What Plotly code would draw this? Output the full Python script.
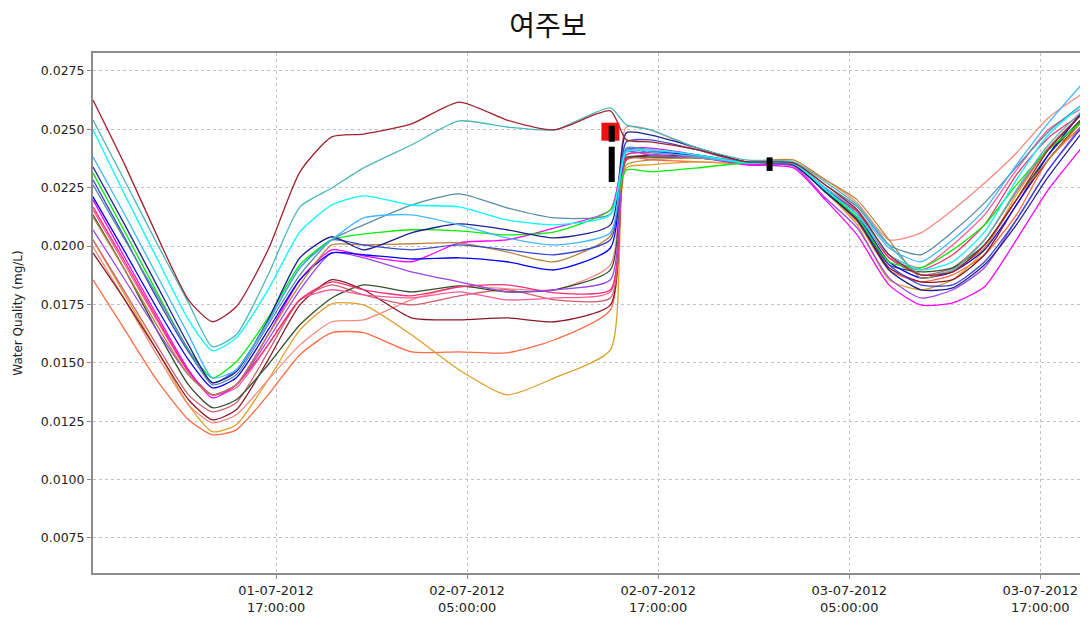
import plotly.graph_objects as go

title_text = "여주보"
y_title = "Water Quality (mg/L)"

times = [
    "2012-07-01 05:30", "2012-07-01 07:30", "2012-07-01 09:30", "2012-07-01 11:30",
    "2012-07-01 13:00", "2012-07-01 14:30", "2012-07-01 16:30", "2012-07-01 18:30",
    "2012-07-01 20:30", "2012-07-01 22:30", "2012-07-02 01:30", "2012-07-02 04:30",
    "2012-07-02 07:30", "2012-07-02 10:30", "2012-07-02 14:00", "2012-07-02 15:00",
    "2012-07-02 16:30", "2012-07-02 19:30", "2012-07-02 22:30", "2012-07-03 01:30",
    "2012-07-03 03:30", "2012-07-03 05:30", "2012-07-03 07:30", "2012-07-03 09:30",
    "2012-07-03 11:30", "2012-07-03 13:30", "2012-07-03 15:30", "2012-07-03 17:30",
    "2012-07-03 20:00",
]

s_darkred = [0.02626,0.02348,0.02048,0.01770,0.01676,0.01740,0.01984,0.02318,0.02468,0.02480,0.02523,0.02617,0.02540,0.02498,0.02579,0.02455,0.02446,0.02412,0.02361,0.02356,0.02262,0.02155,0.01963,0.01877,0.01890,0.02005,0.02198,0.02412,0.02592]
s_teal = [0.02540,0.02279,0.02014,0.01757,0.01569,0.01620,0.01877,0.02168,0.02249,0.02335,0.02433,0.02536,0.02510,0.02498,0.02592,0.02519,0.02498,0.02420,0.02369,0.02361,0.02275,0.02176,0.02005,0.01877,0.01898,0.02027,0.02241,0.02433,0.02604]
s_cyan = [0.02498,0.02219,0.01950,0.01684,0.01552,0.01607,0.01813,0.02061,0.02176,0.02215,0.02176,0.02168,0.02112,0.02091,0.02134,0.02403,0.02412,0.02390,0.02356,0.02356,0.02241,0.02134,0.01963,0.01898,0.01933,0.02061,0.02284,0.02476,0.02626]
s_skyblue = [0.02382,0.02134,0.01877,0.01620,0.01436,0.01470,0.01676,0.01907,0.02027,0.02121,0.02134,0.02091,0.02035,0.02005,0.02057,0.02412,0.02403,0.02382,0.02356,0.02352,0.02249,0.02155,0.01992,0.01933,0.02027,0.02155,0.02348,0.02527,0.02724]
s_grayblue = [0.02262,0.02027,0.01791,0.01556,0.01406,0.01449,0.01663,0.01877,0.02027,0.02091,0.02176,0.02224,0.02164,0.02121,0.02138,0.02420,0.02412,0.02390,0.02361,0.02356,0.02262,0.02168,0.02005,0.01963,0.02061,0.02185,0.02339,0.02489,0.02626]
s_navy = [0.02339,0.02091,0.01834,0.01577,0.01415,0.01462,0.01684,0.01950,0.02040,0.01984,0.02057,0.02095,0.02070,0.02035,0.02091,0.02485,0.02476,0.02420,0.02361,0.02348,0.02232,0.02112,0.01898,0.01813,0.01821,0.01920,0.02091,0.02296,0.02519]
s_green = [0.02313,0.02061,0.01804,0.01556,0.01436,0.01505,0.01693,0.01920,0.02027,0.02052,0.02070,0.02065,0.02048,0.02061,0.02155,0.02326,0.02318,0.02335,0.02356,0.02348,0.02241,0.02121,0.01933,0.01907,0.01984,0.02091,0.02262,0.02412,0.02553]
s_dkgold = [0.02125,0.01898,0.01663,0.01449,0.01363,0.01406,0.01620,0.01834,0.02005,0.02005,0.02010,0.02014,0.01975,0.01933,0.02044,0.02348,0.02369,0.02378,0.02361,0.02369,0.02284,0.02198,0.02027,0.01864,0.01898,0.01992,0.02198,0.02369,0.02562]
s_blue = [0.02211,0.01975,0.01736,0.01513,0.01393,0.01436,0.01641,0.01856,0.01971,0.01963,0.01945,0.01950,0.01933,0.01898,0.01992,0.02412,0.02403,0.02390,0.02356,0.02352,0.02241,0.02134,0.01933,0.01864,0.01890,0.01984,0.02176,0.02390,0.02604]
s_magenta = [0.02198,0.01950,0.01706,0.01470,0.01350,0.01406,0.01620,0.01856,0.01984,0.01958,0.01933,0.02014,0.02027,0.02078,0.02155,0.02412,0.02420,0.02390,0.02348,0.02335,0.02198,0.02048,0.01834,0.01748,0.01757,0.01826,0.02027,0.02241,0.02455]
s_purple = [0.02070,0.01856,0.01641,0.01449,0.01363,0.01406,0.01599,0.01813,0.01971,0.01950,0.01890,0.01847,0.01804,0.01813,0.01856,0.02403,0.02390,0.02378,0.02352,0.02343,0.02207,0.02078,0.01864,0.01778,0.01813,0.01907,0.02112,0.02326,0.02553]
s_crimson = [0.02168,0.01933,0.01693,0.01462,0.01363,0.01406,0.01577,0.01770,0.01847,0.01813,0.01787,0.01826,0.01834,0.01800,0.01813,0.02390,0.02399,0.02382,0.02352,0.02348,0.02241,0.02147,0.01950,0.01898,0.01963,0.02091,0.02305,0.02463,0.02583]
s_dkgreen = [0.02134,0.01898,0.01641,0.01406,0.01308,0.01342,0.01492,0.01663,0.01778,0.01834,0.01804,0.01830,0.01804,0.01813,0.01898,0.02378,0.02382,0.02378,0.02356,0.02352,0.02232,0.02121,0.01920,0.01890,0.01907,0.02005,0.02198,0.02390,0.02574]
s_maroon = [0.01971,0.01770,0.01556,0.01342,0.01256,0.01299,0.01513,0.01748,0.01856,0.01813,0.01693,0.01684,0.01693,0.01676,0.01748,0.02369,0.02390,0.02382,0.02352,0.02348,0.02232,0.02112,0.01907,0.01847,0.01856,0.01963,0.02176,0.02369,0.02570]
s_salmon = [0.01997,0.01770,0.01535,0.01320,0.01243,0.01278,0.01427,0.01577,0.01676,0.01684,0.01770,0.01826,0.01817,0.01813,0.01920,0.02510,0.02498,0.02412,0.02356,0.02356,0.02284,0.02185,0.02027,0.02057,0.02155,0.02270,0.02399,0.02549,0.02669]
s_tomato = [0.01856,0.01641,0.01427,0.01256,0.01192,0.01213,0.01363,0.01535,0.01629,0.01629,0.01547,0.01547,0.01543,0.01599,0.01727,0.02378,0.02369,0.02361,0.02352,0.02343,0.02232,0.02104,0.01898,0.01847,0.01877,0.01963,0.02134,0.02369,0.02540]
s_goldenrod = [0.02027,0.01791,0.01556,0.01320,0.01205,0.01235,0.01427,0.01641,0.01753,0.01748,0.01620,0.01470,0.01363,0.01436,0.01556,0.02335,0.02348,0.02361,0.02356,0.02348,0.02232,0.02091,0.01856,0.01813,0.01856,0.01984,0.02219,0.02412,0.02510]
s_royal = [0.02284,0.02035,0.01778,0.01547,0.01415,0.01470,0.01676,0.01907,0.02027,0.02005,0.01984,0.02005,0.01984,0.01963,0.02027,0.02446,0.02455,0.02412,0.02361,0.02352,0.02241,0.02134,0.01920,0.01834,0.01834,0.01933,0.02112,0.02326,0.02540]
s_hotpink = [0.02155,0.01920,0.01684,0.01462,0.01363,0.01393,0.01577,0.01770,0.01813,0.01791,0.01778,0.01804,0.01770,0.01778,0.01804,0.02390,0.02403,0.02386,0.02356,0.02352,0.02249,0.02155,0.01963,0.01907,0.02005,0.02134,0.02326,0.02498,0.02604]
s_indianred = [0.02027,0.01804,0.01577,0.01363,0.01290,0.01329,0.01547,0.01770,0.01834,0.01791,0.01748,0.01787,0.01813,0.01770,0.01778,0.02369,0.02378,0.02378,0.02356,0.02352,0.02241,0.02147,0.01950,0.01877,0.01907,0.02027,0.02232,0.02420,0.02592]

series = [
    (s_tomato, "#FF6A45"), (s_goldenrod, "#DCA02A"), (s_salmon, "#F58A80"),
    (s_maroon, "#8A1828"), (s_indianred, "#D06070"), (s_dkgreen, "#34502A"),
    (s_hotpink, "#FF5A9A"), (s_crimson, "#F03070"), (s_purple, "#9A45F0"),
    (s_magenta, "#FF00FF"), (s_blue, "#0000FF"), (s_dkgold, "#B8863A"),
    (s_royal, "#3C46D2"), (s_green, "#00F000"), (s_navy, "#202090"),
    (s_grayblue, "#5A8CA8"), (s_skyblue, "#40B8FF"), (s_cyan, "#00FFFF"),
    (s_teal, "#4BB8B8"), (s_darkred, "#A0202E"),
]

obs_time = ["2012-07-02 14:00"]
obs_value = [0.0249]
range_time = ["2012-07-02 14:05", "2012-07-02 14:05"]
range_value = [0.02515, 0.02275]
range2_time = ["2012-07-03 00:00", "2012-07-03 00:00"]
range2_value = [0.02380, 0.02322]

tick_vals = ["2012-07-01 17:00", "2012-07-02 05:00", "2012-07-02 17:00",
             "2012-07-03 05:00", "2012-07-03 17:00"]
tick_text = ["01-07-2012<br>17:00:00", "02-07-2012<br>05:00:00", "02-07-2012<br>17:00:00",
             "03-07-2012<br>05:00:00", "03-07-2012<br>17:00:00"]
y_ticks = [0.0075, 0.0100, 0.0125, 0.0150, 0.0175, 0.0200, 0.0225, 0.0250, 0.0275]

fig = go.Figure()
for vals, col in series:
    fig.add_trace(go.Scatter(x=times, y=vals, mode="lines",
                             line=dict(color=col, width=1.3, shape="spline", smoothing=0.6),
                             showlegend=False, hoverinfo="skip"))

fig.add_trace(go.Scatter(x=obs_time, y=obs_value, mode="markers",
                         marker=dict(symbol="square", color="#EE1111", size=18,
                                     line=dict(width=0)),
                         showlegend=False))
fig.add_trace(go.Scatter(x=range_time, y=range_value, mode="lines",
                         line=dict(color="black", width=6, dash="16px,5px,40px"),
                         showlegend=False))
fig.add_trace(go.Scatter(x=range2_time, y=range2_value, mode="lines",
                         line=dict(color="black", width=6),
                         showlegend=False))

y_font = dict(family="DejaVu Sans, Verdana, sans-serif", size=12.5, color="#222222")
x_font = dict(family="DejaVu Sans, Verdana, sans-serif", size=13, color="#222222")

fig.update_layout(
    width=1080, height=618,
    margin=dict(l=85, r=0, t=45, b=53),
    paper_bgcolor="white", plot_bgcolor="white",
    title=dict(text=title_text, x=0.5, xanchor="center", y=0.987, yanchor="top",
               font=dict(family="Noto Sans CJK KR", size=28, color="#111111")),
    xaxis=dict(
        type="date", range=["2012-07-01 05:30", "2012-07-03 20:00"],
        tickmode="array", tickvals=tick_vals, ticktext=tick_text,
        showgrid=True, gridcolor="#C4C4C4", gridwidth=1, griddash="3px,3px",
        showline=True, linecolor="#8C8C8C", linewidth=2, mirror=True,
        ticks="outside", ticklen=4, tickcolor="#8C8C8C",
        tickfont=x_font, zeroline=False, automargin=False,
    ),
    yaxis=dict(
        range=[0.0060, 0.02827],
        tickmode="array", tickvals=y_ticks, tickformat=".4f",
        showgrid=True, gridcolor="#C4C4C4", gridwidth=1, griddash="3px,3px",
        showline=True, linecolor="#8C8C8C", linewidth=2, mirror=False,
        ticks="outside", ticklen=4, tickcolor="#8C8C8C",
        tickfont=y_font, zeroline=False, automargin=False,
        title=dict(text=y_title, font=dict(family="DejaVu Sans, Verdana, sans-serif",
                                           size=12, color="#222222"), standoff=16),
    ),
)

fig.write_html("out.html")
